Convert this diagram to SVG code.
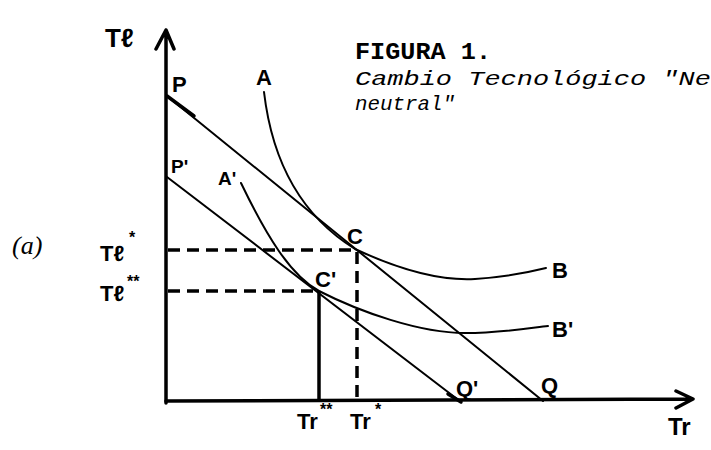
<svg xmlns="http://www.w3.org/2000/svg" width="711" height="450" viewBox="0 0 711 450">
<style>
.ln{fill:none;stroke:#000;stroke-width:2;stroke-linecap:round;stroke-linejoin:round}
.ax{fill:none;stroke:#000;stroke-width:3.5;stroke-linecap:round;stroke-linejoin:round}
.dash{fill:none;stroke:#000;stroke-width:3.5;stroke-dasharray:12 7}
.lbl{font-family:"Liberation Sans",Arial,sans-serif;font-weight:bold;font-size:22px;fill:#000}
.sup{font-family:"Liberation Sans",Arial,sans-serif;font-weight:bold;font-size:16px;fill:#000}
.title{font-family:"Liberation Mono","DejaVu Sans Mono",monospace;font-weight:bold;font-size:24px;fill:#000}
.sub{font-family:"Liberation Mono","DejaVu Sans Mono",monospace;font-style:italic;font-size:21px;fill:#000}
</style>
<rect width="711" height="450" fill="#fff"/>
<g id="axes">
<path class="ax" d="M166,403 L166,30 M156,49 L166,30 L174,49"/>
<path class="ax" d="M166,401 L692,399 M676,391 L693,399 L676,408"/>
</g>
<g id="connectors">
<path class="ln" d="M167,96 L543,401"/>
<path class="ax" d="M167,96 L194,116"/>
<path class="ln" d="M167,177 L461,402"/>
<path class="ax" d="M448,394 L461,402"/>
<path class="ln" d="M264,92 C272,160 300,215 355,249 C400,270 440,281 475,279 C505,277 530,272 546,268"/>
<path class="ln" d="M241,183 C266,235 290,275 319,291 C360,312 420,333 465,333 C500,333 530,328 548,326"/>
<path class="dash" d="M168,250 L355,250"/>
<path class="dash" d="M357,252 L357,400"/>
<path class="dash" d="M168,291 L318,291"/>
<path class="ax" d="M319,292 L319,400"/>
</g>
<g id="title">
<text class="title" x="355" y="59" textLength="136" lengthAdjust="spacingAndGlyphs">FIGURA 1.</text>
<text class="sub" x="355" y="85" textLength="372" lengthAdjust="spacingAndGlyphs">Cambio Tecnológico "Neu</text>
<text class="sub" x="355" y="110" textLength="100" lengthAdjust="spacingAndGlyphs">neutral"</text>
</g>
<g id="node-labels">
<text class="lbl" x="105" y="47" style="font-size:26px">Tℓ</text>
<text class="lbl" x="172" y="92">P</text>
<text class="lbl" x="256" y="85">A</text>
<text class="lbl" x="171" y="173" style="font-size:19px">P'</text>
<text class="lbl" x="218" y="185" style="font-size:19px">A'</text>
<text class="lbl" x="347" y="244">C</text>
<text class="lbl" x="315" y="287">C'</text>
<text class="lbl" x="552" y="278">B</text>
<text class="lbl" x="552" y="337">B'</text>
<text class="lbl" x="456" y="396">Q'</text>
<text class="lbl" x="541" y="393">Q</text>
<text class="lbl" x="100" y="261">Tℓ</text>
<text class="sup" x="129" y="243">*</text>
<text class="lbl" x="100" y="301">Tℓ</text>
<text class="sup" x="127" y="287">**</text>
<text class="lbl" x="297" y="429">Tr</text>
<text class="sup" x="320" y="415">**</text>
<text class="lbl" x="350" y="429">Tr</text>
<text class="sup" x="375" y="415">*</text>
<text class="lbl" x="668" y="435" style="font-size:24px">Tr</text>
<text x="12" y="254" style="font-family:'Liberation Serif',serif;font-style:italic;font-size:26px">(a)</text>
</g>
</svg>
